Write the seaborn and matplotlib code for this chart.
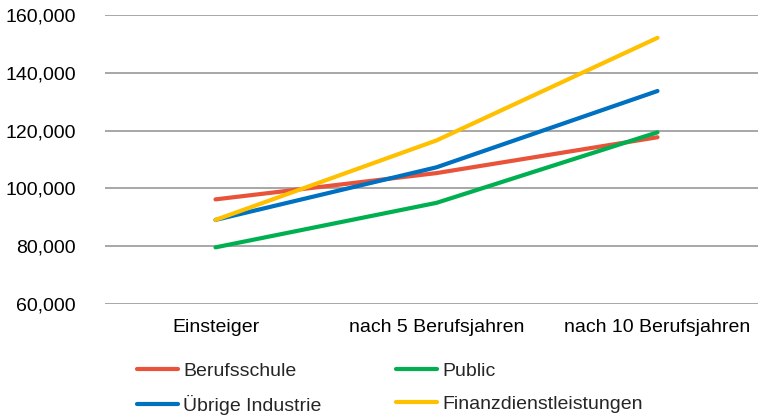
import matplotlib
matplotlib.use("Agg")
import matplotlib.pyplot as plt
import seaborn as sns
import pandas as pd
from matplotlib.ticker import FuncFormatter
from matplotlib.lines import Line2D

categories = ["Einsteiger", "nach 5 Berufsjahren", "nach 10 Berufsjahren"]
berufsschule = [96200, 105300, 117700]
public = [79600, 95000, 119400]
uebrige = [89100, 107300, 133700]
finanz = [89100, 116600, 152100]
series_names = ["Berufsschule", "Public", "Übrige Industrie", "Finanzdienstleistungen"]
colors = ["#E8533A", "#00B050", "#0070C0", "#FFC000"]
yticks = [60000, 80000, 100000, 120000, 140000, 160000]

values = [berufsschule, public, uebrige, finanz]
rows = []
for name, vals in zip(series_names, values):
    for i, (c, v) in enumerate(zip(categories, vals)):
        rows.append({"pos": i, "Kategorie": c, "Serie": name, "Wert": v})
df = pd.DataFrame(rows)

sns.set_theme(style="white")
plt.rcParams["font.family"] = ["Liberation Sans", "DejaVu Sans"]

fig = plt.figure(figsize=(7.58, 4.16), dpi=100)
ax = fig.add_axes([105 / 758, 1 - 304 / 416, 663 / 758, 289 / 416])

palette = dict(zip(series_names, colors))
sns.lineplot(data=df, x="pos", y="Wert", hue="Serie", hue_order=series_names,
             palette=palette, linewidth=3.0, ax=ax, legend=False,
             solid_capstyle="round", zorder=3)

ax.set_xlim(-0.5, 2.5)
ax.set_ylim(60000, 160000)
ax.set_yticks(yticks)
ax.yaxis.set_major_formatter(FuncFormatter(lambda v, p: f"{int(v):,}"))
ax.set_xticks(range(len(categories)))
ax.set_xticklabels(categories)
ax.set_xlabel("")
ax.set_ylabel("")
ax.grid(axis="y", color="#A0A0A0", linewidth=1.3)
ax.grid(axis="x", visible=False)
for s in ax.spines.values():
    s.set_visible(False)
ax.tick_params(axis="both", length=0, labelsize=14, colors="#000000")
ax.tick_params(axis="y", pad=21)
ax.tick_params(axis="x", pad=11)

# legend filled column-wise: rows read Berufsschule | Public, Übrige | Finanz
order = [0, 2, 1, 3]
handles = [Line2D([0], [0], color=colors[i], lw=3) for i in order]
labels = [series_names[i] for i in order]
fig.legend(handles, labels, ncol=2, loc="upper left",
           bbox_to_anchor=(137 / 758, 1 - 362 / 416), frameon=False,
           fontsize=14, handlelength=2.1, handletextpad=0.26,
           columnspacing=3.85, labelspacing=0.8, borderpad=0, borderaxespad=0)

fig.savefig("out.png", dpi=100)
